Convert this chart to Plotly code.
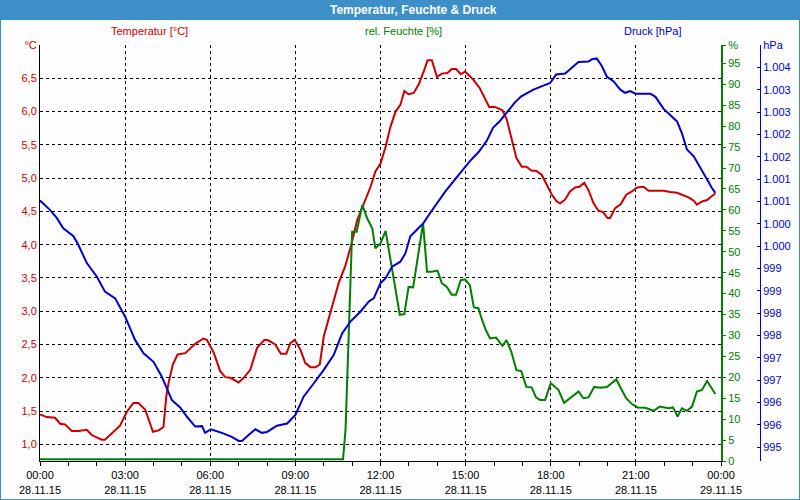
import plotly.graph_objects as go

# ---------------- data ----------------
temp_h = [0.00, 0.24, 0.53, 0.71, 0.88, 1.12, 1.35, 1.65, 1.82, 2.18, 2.29, 2.53, 2.82, 3.06, 3.29, 3.47,
          3.71, 3.98, 4.18, 4.35, 4.45, 4.53, 4.68, 4.85, 5.12, 5.47, 5.76, 5.88, 6.12, 6.35, 6.53, 6.71,
          7.00, 7.18, 7.41, 7.65, 7.91, 8.06, 8.29, 8.49, 8.68, 8.82, 8.98, 9.18, 9.35, 9.53, 9.71, 9.86,
          10.00, 10.18, 10.35, 10.53, 10.76, 10.95, 11.18, 11.42, 11.65, 11.82, 12.00, 12.18, 12.35, 12.53,
          12.70, 12.84, 12.99, 13.17, 13.35, 13.52, 13.66, 13.81, 13.99, 14.16, 14.36, 14.51, 14.66, 14.83,
          14.98, 15.15, 15.29, 15.50, 15.68, 15.83, 16.03, 16.30, 16.45, 16.61, 16.79, 16.98, 17.14, 17.33,
          17.48, 17.68, 17.86, 18.04, 18.21, 18.33, 18.51, 18.68, 18.86, 19.01, 19.18, 19.33, 19.51, 19.68,
          19.84, 20.00, 20.09, 20.27, 20.47, 20.66, 20.86, 21.04, 21.27, 21.45, 21.74, 21.98, 22.21, 22.45,
          22.62, 22.86, 23.04, 23.15, 23.33, 23.51, 23.65, 23.80]
temp_c = [1.45, 1.41, 1.40, 1.31, 1.30, 1.20, 1.20, 1.22, 1.14, 1.07, 1.07, 1.17, 1.28, 1.49, 1.62, 1.62,
          1.52, 1.19, 1.21, 1.26, 1.72, 1.92, 2.20, 2.35, 2.37, 2.51, 2.59, 2.57, 2.38, 2.10, 2.01, 2.00,
          1.93, 2.00, 2.12, 2.45, 2.57, 2.56, 2.50, 2.36, 2.36, 2.52, 2.57, 2.42, 2.22, 2.16, 2.16, 2.20,
          2.62, 2.90, 3.15, 3.43, 3.68, 3.97, 4.37, 4.62, 4.87, 5.10, 5.22, 5.47, 5.77, 6.00,
          6.10, 6.31, 6.26, 6.28, 6.41, 6.60, 6.77, 6.77, 6.52, 6.57, 6.58, 6.64, 6.64, 6.56,
          6.60, 6.53, 6.47, 6.35, 6.20, 6.07, 6.07, 6.02, 5.88, 5.62, 5.30, 5.17, 5.17, 5.11,
          5.11, 5.05, 4.90, 4.75, 4.65, 4.62, 4.68, 4.80, 4.86, 4.87, 4.93, 4.82, 4.62, 4.51,
          4.49, 4.40, 4.40, 4.55, 4.61, 4.75, 4.80, 4.86, 4.87, 4.81, 4.81, 4.81, 4.79, 4.78,
          4.75, 4.71, 4.66, 4.60, 4.65, 4.67, 4.72, 4.77]

hum_h = [0.00, 10.68, 10.77, 10.89, 11.00, 11.16, 11.36, 11.53, 11.71, 11.82, 12.00, 12.18, 12.35, 12.53,
         12.68, 12.84, 12.99, 13.15, 13.31, 13.50, 13.64, 13.81, 14.01, 14.16, 14.34, 14.51, 14.66, 14.83,
         14.98, 15.15, 15.29, 15.45, 15.56, 15.71, 15.86, 16.07, 16.30, 16.44, 16.61, 16.79, 16.96, 17.14,
         17.33, 17.48, 17.62, 17.80, 18.00, 18.27, 18.47, 18.74, 18.98, 19.15, 19.33, 19.53, 19.74, 19.98,
         20.15, 20.31, 20.47, 20.66, 20.86, 21.06, 21.33, 21.62, 21.84, 22.04, 22.15, 22.31, 22.47, 22.62,
         22.80, 22.98, 23.15, 23.33, 23.51, 23.65, 23.80]
hum_pct = [0.4, 0.4, 7.8, 32.9, 54.8, 54.8, 61.2, 58.0, 55.6, 50.8, 52.0, 55.0, 48.0, 40.9,
           34.9, 35.1, 41.6, 41.5, 48.8, 56.8, 45.2, 45.2, 45.5, 42.5, 41.6, 39.7, 39.7, 43.2,
           43.4, 42.0, 36.7, 36.5, 34.1, 31.3, 29.3, 29.5, 27.5, 28.9, 26.1, 21.7, 21.5, 17.7,
           17.6, 15.2, 14.6, 14.6, 18.6, 17.0, 13.9, 15.4, 16.6, 15.0, 15.2, 17.7, 17.5, 17.7,
           18.6, 19.5, 17.4, 15.0, 13.6, 12.8, 12.7, 12.0, 13.0, 12.8, 12.6, 12.8, 10.6, 12.6,
           12.0, 13.0, 16.6, 17.0, 19.1, 17.6, 16.0]

press_h = [0.00, 0.35, 0.59, 0.82, 1.18, 1.35, 1.65, 2.00, 2.29, 2.65, 3.00, 3.35, 3.65, 4.00, 4.29, 4.65,
           4.94, 5.18, 5.47, 5.71, 5.82, 6.02, 6.41, 6.76, 7.00, 7.12, 7.35, 7.59, 7.82, 8.00, 8.35, 8.71,
           9.00, 9.29, 9.65, 10.00, 10.35, 10.65, 10.94, 11.29, 11.59, 11.76, 12.00, 12.18, 12.41, 12.70,
           12.88, 13.05, 13.29, 13.52, 13.75, 13.99, 14.28, 14.57, 14.86, 15.15, 15.45, 15.74, 15.97, 16.21,
           16.44, 16.73, 16.96, 17.20, 17.39, 17.74, 17.98, 18.19, 18.51, 18.74, 18.98, 19.33, 19.45, 19.62,
           19.80, 19.98, 20.21, 20.45, 20.62, 20.80, 20.98, 21.51, 21.69, 21.98, 22.21, 22.45, 22.62, 22.80,
           23.04, 23.27, 23.51, 23.68, 23.80]
press_hpa = [1000.52, 1000.31, 1000.13, 999.90, 999.72, 999.53, 999.12, 998.82, 998.48, 998.33, 997.92,
             997.40, 997.10, 996.91, 996.58, 996.05, 995.89, 995.68, 995.46, 995.47, 995.32, 995.40, 995.32,
             995.23, 995.14, 995.14, 995.27, 995.40, 995.32, 995.34, 995.48, 995.53, 995.72, 996.13, 996.43,
             996.73, 997.06, 997.55, 997.81, 998.03, 998.26, 998.33, 998.67, 998.78, 999.04, 999.15, 999.34,
             999.72, 999.87, 1000.02, 1000.24, 1000.46, 1000.72, 1000.95, 1001.17, 1001.40, 1001.60, 1001.85,
             1002.15, 1002.30, 1002.48, 1002.71, 1002.85, 1002.94, 1003.00, 1003.09, 1003.15, 1003.34, 1003.36,
             1003.49, 1003.62, 1003.63, 1003.68, 1003.70, 1003.53, 1003.29, 1003.19, 1003.00, 1002.93, 1002.97,
             1002.91, 1002.91, 1002.84, 1002.57, 1002.44, 1002.29, 1002.03, 1001.66, 1001.51, 1001.25, 1001.00,
             1000.80, 1000.69]

x_tickvals = [0, 3, 6, 9, 12, 15, 18, 21, 24]
x_ticktext = ["00:00<br>28.11.15", "03:00<br>28.11.15", "06:00<br>28.11.15", "09:00<br>28.11.15",
              "12:00<br>28.11.15", "15:00<br>28.11.15", "18:00<br>28.11.15", "21:00<br>28.11.15",
              "00:00<br>29.11.15"]
t_tickvals = [1.0, 1.5, 2.0, 2.5, 3.0, 3.5, 4.0, 4.5, 5.0, 5.5, 6.0, 6.5, 7.0]
t_ticktext = ["1,0", "1,5", "2,0", "2,5", "3,0", "3,5", "4,0", "4,5", "5,0", "5,5", "6,0", "6,5", "°C"]
h_tickvals = [0, 5, 10, 15, 20, 25, 30, 35, 40, 45, 50, 55, 60, 65, 70, 75, 80, 85, 90, 95, 99.4]
h_ticktext = ["0", "5", "10", "15", "20", "25", "30", "35", "40", "45", "50", "55", "60", "65", "70",
              "75", "80", "85", "90", "95", "%"]
p_tickvals = [995.0, 995.5, 996.0, 996.5, 997.0, 997.5, 998.0, 998.5, 999.0, 999.5, 1000.0, 1000.5,
              1001.0, 1001.5, 1002.0, 1002.5, 1003.0, 1003.5, 1004.0]
p_ticktext = ["995", "996", "996", "997", "997", "998", "998", "999", "999", "1.000", "1.000", "1.001",
              "1.001", "1.002", "1.002", "1.003", "1.003", "1.004", "hPa"]

# ---------------- style ----------------
RED = "#cc0000"
GREEN = "#008000"
BLUE = "#0000cc"
BAR = "#3d8fc7"
BG = "#fcfdfc"
FONT = "Liberation Sans"

W, H = 800, 500
ML, MR, MT, MB = 40, 39, 45, 39
PW = W - ML - MR   # paper width (721)
PH = H - MT - MB   # paper height (416)


def px(xpix):
    return (xpix - ML) / PW


def py(ypix):
    return (H - MB - ypix) / PH


fig = go.Figure()
fig.add_trace(go.Scatter(x=temp_h, y=temp_c, mode="lines", line=dict(color=RED, width=2),
                         yaxis="y", hoverinfo="skip"))
fig.add_trace(go.Scatter(x=hum_h, y=hum_pct, mode="lines", line=dict(color=GREEN, width=2),
                         yaxis="y2", hoverinfo="skip"))
fig.add_trace(go.Scatter(x=press_h, y=press_hpa, mode="lines", line=dict(color=BLUE, width=2),
                         yaxis="y3", hoverinfo="skip"))

fig.update_layout(
    template="none",
    width=W, height=H, autosize=False,
    margin=dict(l=ML, r=MR, t=MT, b=MB, pad=0),
    paper_bgcolor=BG, plot_bgcolor=BG,
    showlegend=False,
    font=dict(family=FONT, size=11, color="black"),
    xaxis=dict(
        domain=[0, px(721)], range=[0, 24], tickvals=x_tickvals, ticktext=x_ticktext,
        showgrid=True, gridcolor="black", gridwidth=1, griddash="3px,3px",
        showline=True, linecolor="black", linewidth=1, mirror=False,
        ticks="outside", ticklen=4, tickcolor="black", tickwidth=1,
        minor=dict(dtick=1, tick0=0, ticks="outside", ticklen=4, tickcolor="black", showgrid=False),
        zeroline=False, automargin=False, tickfont=dict(size=11, color="black", family=FONT),
    ),
    yaxis=dict(
        range=[0.75, 7.0], tickvals=t_tickvals, ticktext=t_ticktext,
        showgrid=True, gridcolor="black", gridwidth=1, griddash="3px,3px",
        showline=True, linecolor="black", linewidth=1,
        ticks="", zeroline=False, automargin=False,
        tickfont=dict(size=11, color=RED, family=FONT),
    ),
    yaxis2=dict(
        overlaying="y", side="right", anchor="x", range=[0, 99.4],
        tickvals=h_tickvals, ticktext=h_ticktext,
        showgrid=False, showline=True, linecolor=GREEN, linewidth=2,
        ticks="outside", ticklen=3, tickcolor=GREEN, zeroline=False, automargin=False,
        tickfont=dict(size=11, color=GREEN, family=FONT),
    ),
    yaxis3=dict(
        overlaying="y", side="right", anchor="free", position=px(760),
        range=[994.69, 1004.0], tickvals=p_tickvals, ticktext=p_ticktext,
        showgrid=False, showline=True, linecolor=BLUE, linewidth=1,
        ticks="inside", ticklen=3, tickcolor=BLUE, zeroline=False, automargin=False,
        tickfont=dict(size=11, color=BLUE, family=FONT),
    ),
    shapes=[
        dict(type="rect", xref="paper", yref="paper", x0=px(0), x1=px(800), y0=py(20), y1=py(0),
             fillcolor=BAR, line=dict(width=0), layer="above"),
        dict(type="rect", xref="paper", yref="paper", x0=px(0), x1=px(800), y0=py(500), y1=py(0),
             fillcolor="rgba(0,0,0,0)", line=dict(color=BAR, width=2), layer="above"),
    ],
    annotations=[
        dict(text="<b>Temperatur, Feuchte &amp; Druck</b>", xref="paper", yref="paper",
             x=px(413), y=py(10), xanchor="center", yanchor="middle", showarrow=False,
             font=dict(family=FONT, size=12, color="white")),
        dict(text="Temperatur [°C]", xref="paper", yref="paper", x=px(149), y=py(31),
             xanchor="center", yanchor="middle", showarrow=False, font=dict(family=FONT, size=11, color=RED)),
        dict(text="rel. Feuchte [%]", xref="paper", yref="paper", x=px(403), y=py(31),
             xanchor="center", yanchor="middle", showarrow=False, font=dict(family=FONT, size=11, color=GREEN)),
        dict(text="Druck [hPa]", xref="paper", yref="paper", x=px(652), y=py(31),
             xanchor="center", yanchor="middle", showarrow=False, font=dict(family=FONT, size=11, color=BLUE)),
    ],
)

fig.write_html("out.html")
